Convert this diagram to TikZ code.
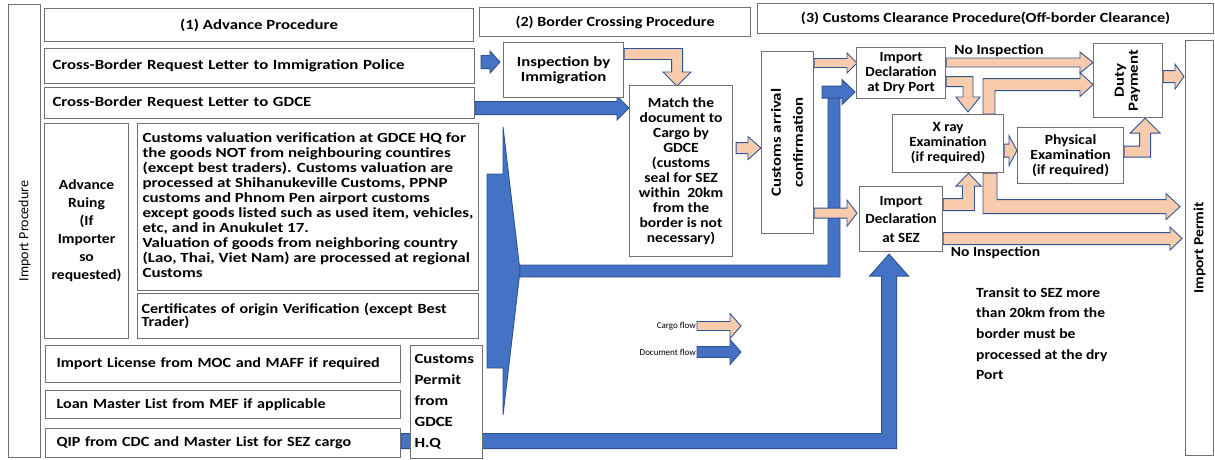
\documentclass[tikz,border=0pt]{standalone}
\usepackage{fontspec}
\setmainfont{Carlito}
\newfontfamily\fsD{Carlito}[NFSSFamily=carlitod, FakeStretch=1.2]
\newfontfamily\fsC{Carlito}[NFSSFamily=carlitoc, FakeStretch=1.15]
\newfontfamily\fsB{Carlito}[NFSSFamily=carlitob, FakeStretch=1.11]
\newfontfamily\fsA{Carlito}[NFSSFamily=carlitoa, FakeStretch=1.07]
\usetikzlibrary{calc,backgrounds}

\definecolor{boxgray}{RGB}{112,112,112}
\definecolor{cargofill}{RGB}{248,203,173}
\definecolor{cargoline}{RGB}{47,85,151}
\definecolor{docfill}{RGB}{68,114,196}
\definecolor{docline}{RGB}{47,82,143}

\tikzset{
  box/.style={draw=boxgray, line width=1.1pt, fill=white, inner sep=2pt, align=center,
    font=\fsB\bfseries\fontsize{14}{15}\selectfont},
  row/.style={box, anchor=north west, align=left, inner xsep=8pt},
  cargo/.style={fill=cargofill, draw=cargoline, line width=0.9pt, line join=miter},
  docu/.style={fill=docfill, draw=docline, line width=0.9pt, line join=miter},
  tag/.style={font=\fsB\bfseries\fontsize{14}{15}\selectfont, inner sep=0pt},
  legend/.style={font=\fontsize{9}{10}\selectfont, inner sep=1pt}
}

% straight block arrow: [style]{from}{to}{half shaft}{half head}{head length}
\newcommand{\flow}[6][cargo]{%
  \coordinate (fa) at (#2); \coordinate (fb) at (#3);
  \coordinate (fc) at ($(fb)!#6!(fa)$);
  \draw[#1] ($(fa)!#4!90:(fb)$) -- ($(fc)!#4!-90:(fa)$) -- ($(fc)!#5!-90:(fa)$) -- (fb)
    -- ($(fc)!#5!90:(fa)$) -- ($(fc)!#4!90:(fa)$) -- ($(fa)!#4!-90:(fb)$) -- cycle;}

% bent block arrow: [style]{from}{corner}{to}{half shaft}{half head}{head length}
\newcommand{\bentflow}[7][cargo]{%
  \coordinate (fa) at (#2); \coordinate (fk) at (#3); \coordinate (fb) at (#4);
  \coordinate (fc) at ($(fb)!#7!(fk)$);
  \draw[#1] ($(fa)!#5!90:(fk)$) -- ($(fk)!#5!-90:(fa) + (fk)!#5!90:(fb) - (fk)$)
    -- ($(fc)!#5!-90:(fk)$) -- ($(fc)!#6!-90:(fk)$) -- (fb) -- ($(fc)!#6!90:(fk)$)
    -- ($(fc)!#5!90:(fk)$) -- ($(fk)!#5!90:(fa) + (fk)!#5!-90:(fb) - (fk)$)
    -- ($(fa)!#5!-90:(fk)$) -- cycle;}

\begin{document}
\begin{tikzpicture}[x=1pt, y=-1pt]
\useasboundingbox (0,0) rectangle (1215,459);

\node[box, minimum width=32pt, minimum height=453pt, anchor=north west, font=\fontsize{14}{15}\selectfont] (proc) at (8,4) {\rotatebox{90}{Import Procedure}};

% (1) advance procedure
\node[box, minimum width=429pt, minimum height=33pt, anchor=north west, font=\fsD\bfseries\fontsize{14}{15}\selectfont] (head1) at (44,8) {(1) Advance Procedure};
\node[row, text width=414pt, minimum height=35pt, font=\fsD\bfseries\fontsize{14}{15}\selectfont] (letterimm) at (44,48) {Cross-Border Request Letter to Immigration Police};
\node[row, text width=414pt, minimum height=31pt, font=\fsD\bfseries\fontsize{14}{15}\selectfont] (lettergdce) at (44,87) {Cross-Border Request Letter to GDCE};
\node[box, minimum width=84pt, minimum height=215pt, anchor=north west, font=\fsB\bfseries\fontsize{14}{18}\selectfont] (ruling) at (44,123) {Advance\\Ruing\\(If\\Importer\\so\\requested)};
\node[box, minimum width=341pt, minimum height=167pt, anchor=north west, font=\bfseries\fontsize{14}{15}\selectfont] (valuation) at (137,123) {\resizebox{331pt}{\height}{\begin{tabular}{@{}l@{}}Customs valuation verification at GDCE HQ for\\the goods NOT from neighbouring countires\\(except best traders). Customs valuation are\\processed at Shihanukeville Customs, PPNP\\customs and Phnom Pen airport customs\\except goods listed such as used item, vehicles,\\etc, and in Anukulet 17.\\Valuation of goods from neighboring country\\(Lao, Thai, Viet Nam) are processed at regional\\Customs\end{tabular}}};
\node[row, text width=333pt, minimum height=45pt, inner xsep=4pt, font=\fsC\bfseries\fontsize{14}{13}\selectfont] (origin) at (137,293) {Certificates of origin Verification (except Best\\Trader)};
\node[row, text width=333pt, minimum height=37pt, inner xsep=11pt, font=\fsC\bfseries\fontsize{14}{15}\selectfont] (license) at (45,345) {Import License from MOC and MAFF if required};
\node[row, text width=333pt, minimum height=28pt, inner xsep=11pt, font=\fsC\bfseries\fontsize{14}{15}\selectfont] (loan) at (45,390) {Loan Master List from MEF if applicable};
\node[row, text width=333pt, minimum height=29pt, inner xsep=11pt, font=\fsC\bfseries\fontsize{14}{15}\selectfont] (qip) at (45,428) {QIP from CDC and Master List for SEZ cargo};
\node[row, text width=64pt, minimum height=113pt, inner xsep=4pt, font=\fsD\bfseries\fontsize{14}{21}\selectfont] (cpermit) at (410,345) {Customs\\Permit\\from\\GDCE\\H.Q};

% (2) border crossing
\node[box, minimum width=271pt, minimum height=29pt, anchor=north west, font=\fsC\bfseries\fontsize{14}{15}\selectfont] (head2) at (479,7) {(2) Border Crossing Procedure};
\node[box, minimum width=120pt, minimum height=55pt, anchor=north west, font=\fsD\bfseries\fontsize{14}{15}\selectfont] (insp) at (503,42) {Inspection by\\Immigration};
\node[box, minimum width=103pt, minimum height=171pt, anchor=north west] (match) at (629,85) {Match the\\document to\\Cargo by\\GDCE\\(customs\\seal for SEZ\\within\ \ 20km\\from the\\border is not\\necessary)};

% (3) customs clearance
\node[box, minimum width=456pt, minimum height=30pt, anchor=north west, font=\fsC\bfseries\fontsize{14}{15}\selectfont] (head3) at (757,3) {(3) Customs Clearance Procedure(Off-border Clearance)};
\node[box, minimum width=52pt, minimum height=182pt, anchor=north west, font=\fsD\bfseries\fontsize{14}{22}\selectfont] (arrival) at (761,51) {\rotatebox{90}{\begin{tabular}{@{}c@{}}Customs arrival\\confirmation\end{tabular}}};
\node[box, minimum width=89pt, minimum height=51pt, anchor=north west, font=\fsA\bfseries\fontsize{14}{15}\selectfont] (dry) at (856,47) {Import\\Declaration\\at Dry Port};
\node[box, minimum width=111pt, minimum height=58pt, anchor=north west, font=\fsA\bfseries\fontsize{14}{15}\selectfont] (xray) at (892,114) {X ray\\Examination\\(if required)};
\node[box, minimum width=106pt, minimum height=56pt, anchor=north west] (phys) at (1017,127) {Physical\\Examination\\(if required)};
\node[box, minimum width=83pt, minimum height=65pt, anchor=north west, font=\fsA\bfseries\fontsize{14}{18.5}\selectfont] (sez) at (859,186) {Import\\Declaration\\at SEZ};
\node[box, minimum width=69pt, minimum height=74pt, anchor=north west, font=\fsD\bfseries\fontsize{14}{14}\selectfont] (duty) at (1093,43) {\rotatebox{90}{\begin{tabular}{@{}c@{}}Duty\\Payment\end{tabular}}};
\node[box, minimum width=28pt, minimum height=415pt, anchor=north west] (permit) at (1185,40) {\rotatebox{90}{Import Permit}};

\node[tag] (noinsp1) at (999,51) {No Inspection};
\node[tag] (noinsp2) at (995.5,253) {No Inspection};
\node[tag, anchor=north west, align=left, font=\fsB\bfseries\fontsize{14}{20.7}\selectfont] (transit) at (976,287) {Transit to SEZ more\\than 20km from the\\border must be\\processed at the dry\\Port};
\node[legend, anchor=east] (cargolbl) at (697,326) {Cargo flow};
\node[legend, anchor=east] (doclbl) at (697,352) {Document flow};

\begin{scope}[on background layer]
\fill[white] (0,0) rectangle (1215,459);
% document flow
\flow[docu]{$(letterimm.east)+(6,-4)$}{$(insp.west)+(-3,-8)$}{6.5pt}{11pt}{10pt}
\flow[docu]{$(lettergdce.east)+(0,5)$}{$(match.west |- lettergdce.east)+(0,5)$}{6.5pt}{12pt}{12pt}
\coordinate (apex) at (520,271);
\draw[docu] (487,174) -- (503,174) -- (503,127) -- (apex) -- (503,415) -- (503,368) -- (487,368) -- cycle;
\coordinate (turn) at ($(dry.west)+(-22,19)$);
\bentflow[docu]{apex}{apex -| turn}{turn}{6pt}{6pt}{0.01pt}
\flow[docu]{$(turn)+(-12,0)$}{$(dry.west)+(-1,19)$}{6pt}{12.5pt}{13pt}
\bentflow[docu]{$(qip.east)+(0,-2)$}{$(qip.east -| sez.south)+(-12,-2)$}{$(sez.south)+(-12,2)$}{7.5pt}{19.5pt}{22pt}
% cargo flow
\bentflow{$(insp.north east)+(0,12)$}{$(insp.north east -| match.north)+(-4,12)$}{$(match.north)+(-4,1)$}{5.5pt}{14pt}{14pt}
\flow{$(match.east)+(3,-23)$}{$(match.east -| arrival.west)+(0,-23)$}{5.5pt}{11.5pt}{13pt}
\flow{$(arrival.north east)+(0,12)$}{$(arrival.north east -| dry.west)+(1,12)$}{4.5pt}{10pt}{10pt}
\flow{$(arrival.south east)+(0,-21)$}{$(arrival.south east -| sez.west)+(-2,-21)$}{5pt}{13pt}{10pt}
\flow{$(dry.north east)+(0,15.5)$}{$(dry.north east -| duty.west)+(0,15.5)$}{4.5pt}{10.5pt}{13pt}
\bentflow{$(dry.east)+(0,8.5)$}{$(dry.east -| xray.north west)+(76,8.5)$}{$(xray.north west)+(76,-2)$}{5pt}{12pt}{15pt}
\bentflow{$(xray.north west)+(97,0)$}{$(xray.north west |- duty.west)+(97,4)$}{$(duty.west)+(0,4)$}{6pt}{12pt}{13pt}
\flow{$(xray.east)+(0,7)$}{$(xray.east -| phys.west)+(0,7)$}{6.5pt}{15pt}{8pt}
\bentflow{$(phys.east)+(0,-4)$}{$(phys.east -| duty.south)+(17,-4)$}{$(duty.south)+(17,0)$}{5.5pt}{15pt}{15pt}
\flow{$(duty.east)+(0,-4)$}{$(duty.east -| permit.west)+(-1,-4)$}{6pt}{12.5pt}{9pt}
\bentflow{$(sez.east)+(0,-14.5)$}{$(sez.east -| xray.south west)+(76.5,-14.5)$}{$(xray.south west)+(76.5,0)$}{6pt}{12.5pt}{13pt}
\bentflow{$(xray.south west)+(98,0)$}{$(xray.south west)+(98,33.5)$}{$(xray.south west -| permit.west)+(-5,33.5)$}{7pt}{13pt}{14pt}
\flow{$(sez.east)+(0,19.5)$}{$(sez.east -| permit.west)+(-3,19.5)$}{6pt}{11.5pt}{12pt}
% legend
\flow{cargolbl.east}{$(cargolbl.east)+(44,0)$}{4.5pt}{12.5pt}{11pt}
\flow[docu]{doclbl.east}{$(doclbl.east)+(44,0)$}{5.5pt}{12.5pt}{11pt}
\end{scope}
\end{tikzpicture}
\end{document}
